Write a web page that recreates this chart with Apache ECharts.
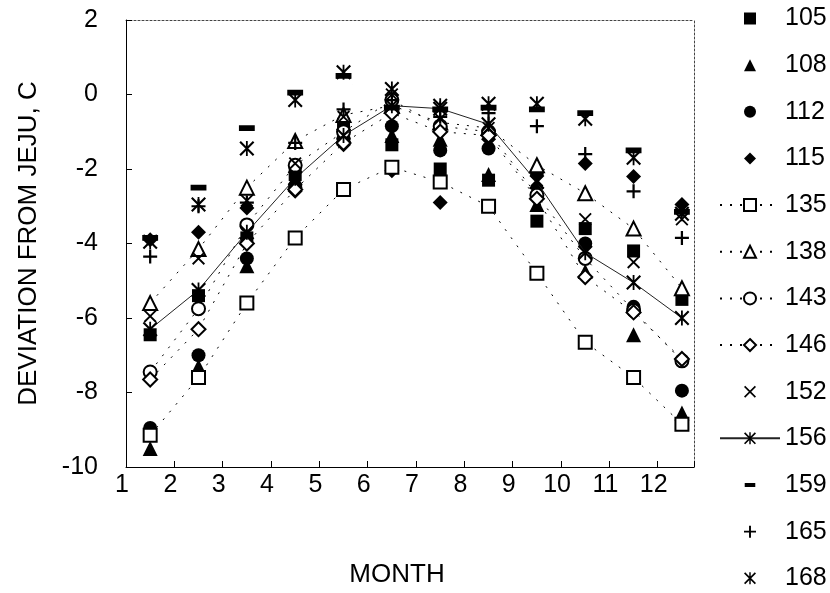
<!DOCTYPE html>
<html>
<head>
<meta charset="utf-8">
<script src="https://cdn.jsdelivr.net/npm/echarts@6/dist/echarts.min.js"></script>
<style>html,body{margin:0;padding:0;background:#fff}#c{width:830px;height:593px}</style>
</head>
<body>
<div id="c"></div>
<script>
// Month positions (mid-month)
const months = [1.5, 2.5, 3.5, 4.5, 5.5, 6.5, 7.5, 8.5, 9.5, 10.5, 11.5, 12.5];
const stations = ['105','108','112','115','135','138','143','146','152','156','159','165','168'];
const xTickLabels = ['1','2','3','4','5','6','7','8','9','10','11','12'];
const yTicks = [-10, -8, -6, -4, -2, 0, 2];

const s105 = [-6.45, -5.4, -3.85, -2.15, -0.8, -1.35, -2.0, -2.3, -3.4, -3.6, -4.2, -5.5];
const s108 = [-9.5, -7.3, -4.6, -2.3, -1.0, -1.1, -1.2, -2.15, -2.95, -4.75, -6.45, -8.55];
const s112 = [-8.95, -7.0, -4.4, -2.45, -1.2, -0.85, -1.5, -1.45, -2.1, -4.0, -5.7, -7.95];
const s115 = [-3.9, -3.7, -3.05, -2.6, -1.35, -2.05, -2.9, -1.2, -2.5, -1.85, -2.2, -2.95];
const s135 = [-9.15, -7.6, -5.6, -3.85, -2.55, -1.95, -2.35, -3.0, -4.8, -6.65, -7.6, -8.85];
const s138 = [-5.6, -4.15, -2.5, -1.25, -0.55, -0.3, -0.75, -0.9, -1.9, -2.65, -3.6, -5.2];
const s143 = [-7.45, -5.75, -3.5, -1.9, -1.0, -0.15, -0.85, -1.0, -2.7, -4.4, -5.8, -7.15];
const s146 = [-7.65, -6.3, -4.0, -2.55, -1.3, -0.5, -1.0, -1.1, -2.8, -4.9, -5.85, -7.1];
const s152 = [-5.95, -4.4, -2.85, -1.85, -0.6, 0.0, -0.65, -0.9, -2.3, -3.35, -4.5, -3.35];
const s156 = [-6.3, -5.25, -3.7, -2.25, -1.1, -0.3, -0.38, -0.8, -2.35, -4.25, -5.05, -6.0];
const s159 = [-3.85, -2.5, -0.9, 0.05, 0.5, -0.35, -0.4, -0.35, -0.4, -0.5, -1.5, -3.15];
const s165 = [-4.35, -3.0, -2.9, -1.3, -0.4, -0.15, -0.6, -0.5, -0.85, -1.6, -2.6, -3.85];
const s168 = [-3.95, -2.95, -1.45, -0.15, 0.6, 0.15, -0.3, -0.25, -0.25, -0.65, -1.7, -3.2];

const values = [s105, s108, s112, s115, s135, s138, s143, s146, s152, s156, s159, s165, s168];

const XP = 'M0,10L10,0L100,90L90,100Z M90,0L100,10L10,100L0,90Z';
const SYM_X = 'path://' + XP;
const SYM_PLUS = 'path://M42,0H58V42H100V58H58V100H42V58H0V42H42Z';
const SYM_AST = 'path://' + XP + ' M44,0H56V100H44Z';
const SYM_BAR = 'path://M0,0L0.5,0L0,0.5Z M100,100L99.5,100L100,99.5Z M6,34H94V66H6Z';

// [symbol, size, empty?, lineType]
const styles = [
  ['rect', 13, false, null],
  ['triangle', 15, false, null],
  ['circle', 14, false, null],
  ['diamond', 15, false, null],
  ['emptyRect', 13, true, 'dotted'],
  ['emptyTriangle', 14, true, 'dotted'],
  ['emptyCircle', 13, true, 'dotted'],
  ['emptyDiamond', 14, true, 'dotted'],
  [SYM_X, 13, false, null],
  [SYM_AST, 15, false, 'solid'],
  [SYM_BAR, 18, false, null],
  [SYM_PLUS, 14, false, null],
  [SYM_AST, 15, false, null]
];

const FONT = 'Liberation Sans, Arial, sans-serif';

const series = stations.map((name, i) => {
  const st = styles[i];
  let lineStyle;
  if (st[3] === 'dotted') lineStyle = { color: '#000', width: 1, type: [2, 8] };
  else if (st[3] === 'solid') lineStyle = { color: '#222', width: 1, type: 'solid' };
  else lineStyle = { color: '#000', width: 0, opacity: 0 };
  return {
    name: name,
    type: 'line',
    data: months.map((m, k) => [m, values[i][k]]),
    symbol: st[0],
    symbolSize: st[1],
    showSymbol: true,
    lineStyle: lineStyle,
    itemStyle: st[2] ? { color: '#000', borderColor: '#000', borderWidth: 1.6 } : { color: '#000', borderWidth: 0 },
    emphasis: { disabled: true },
    z: 2 + i,
    animation: false
  };
});

const chart = echarts.init(document.getElementById('c'), null, { renderer: 'canvas' });
chart.setOption({
  backgroundColor: '#fff',
  animation: false,
  textStyle: { fontFamily: FONT },
  grid: { left: 126, right: 136, top: 20, bottom: 118 },
  legend: {
    orient: 'vertical',
    left: 719,
    top: 6,
    height: 587,
    padding: 0,
    itemWidth: 60,
    itemHeight: 15,
    itemGap: 21.65,
    selectedMode: false,
    data: stations.map((n, i) => ({
      name: n,
      lineStyle: styles[i][3] ? undefined : { width: 0, opacity: 0 }
    })),
    textStyle: { fontSize: 25, color: '#000', fontFamily: FONT, lineHeight: 24 }
  },
  xAxis: [{
    type: 'value',
    min: 1,
    max: 12.75,
    interval: 1,
    name: 'MONTH',
    nameLocation: 'middle',
    nameGap: 95,
    nameTextStyle: { fontSize: 26, color: '#000', fontFamily: FONT, padding: [0, 26, 0, 0] },
    axisLine: { show: true, onZero: false, lineStyle: { color: '#000', width: 1 } },
    axisTick: { show: true, inside: true, length: 6, lineStyle: { color: '#000' } },
    axisLabel: {
      fontSize: 25, color: '#000', fontFamily: FONT, margin: 6, padding: [0, 8, 0, 0],
      formatter: v => (Number.isInteger(v) && v >= 1 && v <= 12) ? xTickLabels[v - 1] : ''
    },
    splitLine: { show: false }
  }, {
    type: 'value', position: 'top', min: 1, max: 12.75,
    axisLine: { show: true, onZero: false, lineStyle: { color: '#444', width: 1, type: [2, 2] } },
    axisTick: { show: false }, axisLabel: { show: false }, splitLine: { show: false }
  }],
  yAxis: [{
    type: 'value',
    min: -10,
    max: 2,
    interval: 2,
    name: 'DEVIATION FROM JEJU, C',
    nameLocation: 'middle',
    nameGap: 84,
    nameTextStyle: { fontSize: 26, color: '#000', fontFamily: FONT },
    axisLine: { show: true, onZero: false, lineStyle: { color: '#000', width: 1 } },
    axisTick: { show: true, inside: true, length: 6, lineStyle: { color: '#000' } },
    axisLabel: {
      fontSize: 25, color: '#000', fontFamily: FONT, margin: 28,
      formatter: v => yTicks.indexOf(v) >= 0 ? String(v) : ''
    },
    splitLine: { show: false }
  }, {
    type: 'value', position: 'right', min: -10, max: 2,
    axisLine: { show: true, onZero: false, lineStyle: { color: '#444', width: 1, type: [2, 2] } },
    axisTick: { show: false }, axisLabel: { show: false }, splitLine: { show: false }
  }],
  series: series
});
</script>
</body>
</html>
